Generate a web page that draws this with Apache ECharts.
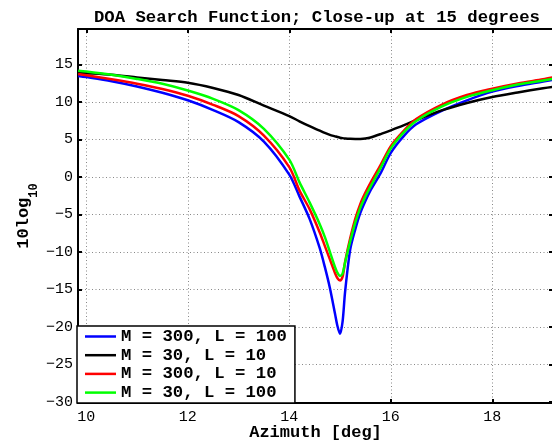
<!DOCTYPE html>
<html>
<head>
<meta charset="utf-8">
<title>DOA Search Function</title>
<script src="https://cdn.jsdelivr.net/npm/echarts@6/dist/echarts.min.js"></script>
<style>
html, body { margin: 0; padding: 0; background: #fff; }
#chart { width: 552px; height: 446px; }
</style>
</head>
<body>
<div id="chart"></div>
<script>
// azimuth samples [deg]
const azimuth = [9.84, 10, 10.5, 11, 11.5, 12, 12.5, 13, 13.5, 14, 14.2, 14.4, 14.6, 14.7, 14.8, 14.9, 14.95,
  15, 15.05, 15.1, 15.2, 15.3, 15.4, 15.5, 15.6, 15.8, 16, 16.25, 16.5, 17, 17.5, 18, 18.5, 19, 19.2]

// 10log10 of the search function for each (M, L)
const m300L100 = [13.45, 13.3, 12.75, 12.05, 11.2, 10.2, 8.9, 7.3, 4.7, 0.3, -2.6, -5.6, -9.5, -12.0, -14.8, -18.2, -19.9,
  -20.9, -19.3, -15.3, -9.7, -7.0, -4.8, -3.2, -1.8, 0.5, 3.2, 5.4, 7.0, 8.8, 10.2, 11.35, 12.1, 12.7, 12.95]
const m30L10 = [13.85, 13.8, 13.6, 13.25, 12.9, 12.55, 11.85, 10.9, 9.5, 8.1, 7.4, 6.75, 6.15, 5.85, 5.6, 5.4, 5.3,
  5.22, 5.16, 5.12, 5.07, 5.05, 5.06, 5.12, 5.25, 5.7, 6.2, 6.85, 7.55, 8.85, 9.85, 10.65, 11.25, 11.8, 12.0]
const m300L10 = [13.7, 13.55, 13.0, 12.4, 11.7, 10.8, 9.6, 8.1, 5.5, 1.3, -1.8, -4.3, -7.4, -9.2, -11.0, -12.8, -13.5,
  -13.8, -13.3, -11.3, -8.2, -5.6, -3.6, -2.1, -0.8, 1.6, 4.1, 6.1, 7.7, 9.6, 10.9, 11.75, 12.45, 13.0, 13.25]
const m30L100 = [14.15, 14.05, 13.6, 13.05, 12.4, 11.5, 10.4, 8.9, 6.4, 2.3, -0.7, -3.4, -6.3, -8.0, -10.0, -12.0, -12.8,
  -13.2, -12.9, -11.4, -8.6, -6.1, -4.1, -2.6, -1.3, 1.2, 3.8, 5.9, 7.45, 9.35, 10.65, 11.55, 12.3, 12.85, 13.05]

const seriesNames = ['M = 300, L = 100', 'M = 30, L = 10', 'M = 300, L = 10', 'M = 30, L = 100']
const seriesColors = ['#0000ff', '#000000', '#ff0000', '#00ff00']
const seriesValues = [m300L100, m30L10, m300L10, m30L100]

const FONT = 'Liberation Mono'

// only label the whole ticks, not the extent ends
function tickText(v) {
  if (Math.abs(v - Math.round(v)) > 1e-6) return ''
  return String(Math.round(v)).replace('-', '\u2212')
}

const chart = echarts.init(document.getElementById('chart'), null, { renderer: 'canvas' })

const gridLine = { show: true, lineStyle: { color: '#888', width: 1, type: [1, 2.5] } }
const boxLine = { show: true, onZero: false, lineStyle: { color: '#000', width: 2 } }
const innerTick = { show: true, inside: true, length: 4, lineStyle: { color: '#000', width: 2 } }

const option = {
  animation: false,
  backgroundColor: '#fff',
  title: {
    text: 'DOA Search Function; Close-up at 15 degrees',
    left: 89,
    top: 4,
    textStyle: { fontFamily: FONT, fontWeight: 'bold', fontSize: 17.3, color: '#000' }
  },
  legend: {
    orient: 'vertical',
    left: 77,
    top: 326,
    data: seriesNames,
    icon: 'rect',
    backgroundColor: '#fff',
    borderColor: '#000',
    borderWidth: 1.5,
    borderRadius: 0,
    padding: [2, 8, 2, 8],
    itemWidth: 31,
    itemHeight: 2.5,
    itemGap: 1.7,
    textStyle: { fontFamily: FONT, fontWeight: 'bold', fontSize: 17.3, color: '#000', lineHeight: 17 }
  },
  grid: { left: 78, top: 29, width: 475, height: 374, containLabel: false, outerBoundsMode: 'none' },
  xAxis: [
    {
      type: 'value',
      min: 9.837,
      max: 19.196,
      splitNumber: 5,
      name: 'Azimuth [deg]',
      nameLocation: 'middle',
      nameGap: 21,
      nameMoveOverlap: false,
      nameTextStyle: { fontFamily: FONT, fontWeight: 'bold', fontSize: 17, color: '#000' },
      axisLine: boxLine,
      axisTick: innerTick,
      splitLine: gridLine,
      axisLabel: { formatter: tickText, fontFamily: FONT, fontSize: 15, color: '#000', margin: 7 }
    },
    {
      type: 'value',
      position: 'top',
      min: 9.837,
      max: 19.196,
      splitNumber: 5,
      axisLine: boxLine,
      axisTick: innerTick,
      splitLine: { show: false },
      axisLabel: { show: false }
    }
  ],
  yAxis: [
    {
      type: 'value',
      min: -30.13,
      max: 19.7,
      splitNumber: 10,
      name: '{a|10log}{b|10}',
      nameLocation: 'middle',
      nameGap: 38,
      nameMoveOverlap: false,
      nameTextStyle: {
        rich: {
          a: { fontFamily: FONT, fontWeight: 'bold', fontSize: 17, color: '#000' },
          b: { fontFamily: FONT, fontWeight: 'bold', fontSize: 12, color: '#000', padding: [20, 0, 0, 0] }
        }
      },
      axisLine: boxLine,
      axisTick: innerTick,
      splitLine: gridLine,
      axisLabel: { formatter: tickText, fontFamily: FONT, fontSize: 15, color: '#000', margin: 5 }
    },
    {
      type: 'value',
      position: 'right',
      min: -30.13,
      max: 19.7,
      splitNumber: 10,
      axisLine: boxLine,
      axisTick: innerTick,
      splitLine: { show: false },
      axisLabel: { show: false }
    }
  ],
  series: seriesNames.map((name, i) => ({
    name: name,
    type: 'line',
    xAxisIndex: 0,
    yAxisIndex: 0,
    data: azimuth.map((x, k) => [x, seriesValues[i][k]]),
    symbol: 'none',
    smooth: 0.3,
    color: seriesColors[i],
    lineStyle: { color: seriesColors[i], width: 2.5 },
    clip: true
  }))
}

chart.setOption(option)
</script>
</body>
</html>
